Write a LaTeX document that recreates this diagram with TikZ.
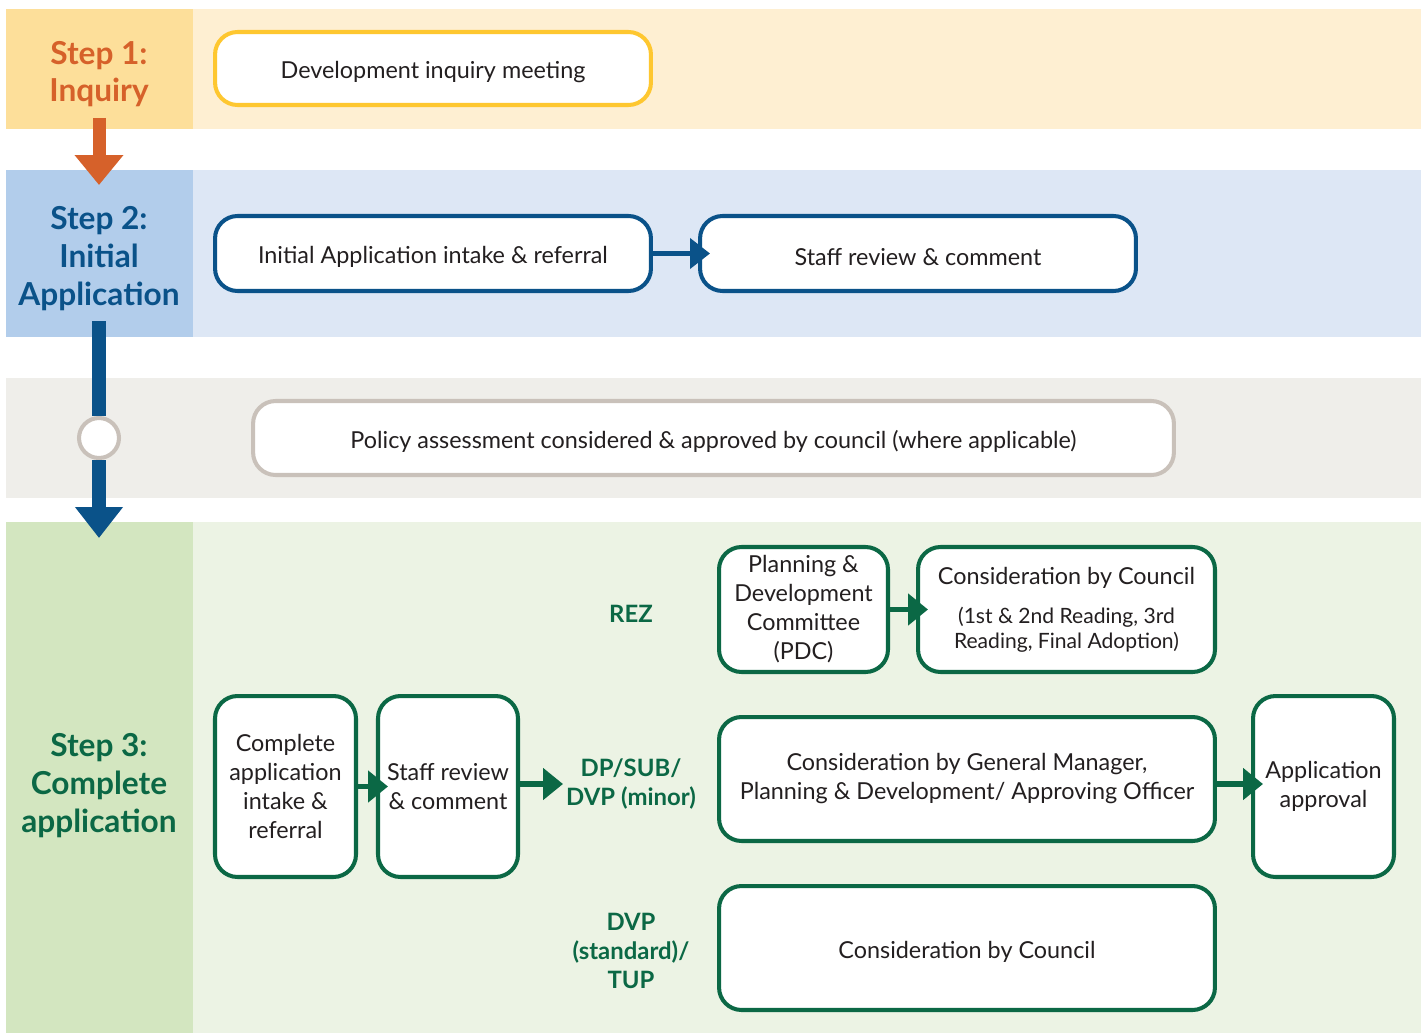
\documentclass[tikz,border=0pt]{standalone}
\usepackage{fontspec}
\setmainfont{Lato}
\usetikzlibrary{arrows.meta, positioning}

\definecolor{InqDark}{HTML}{FDDF9A}
\definecolor{InqLight}{HTML}{FEEFD2}
\definecolor{InqLine}{HTML}{FEC730}
\definecolor{InqText}{HTML}{D6612A}
\definecolor{AppDark}{HTML}{B2CDEB}
\definecolor{AppLight}{HTML}{DDE7F5}
\definecolor{AppLine}{HTML}{0A5289}
\definecolor{PolBand}{HTML}{EFEEEA}
\definecolor{PolLine}{HTML}{C9C1BA}
\definecolor{CplDark}{HTML}{D3E6C0}
\definecolor{CplLight}{HTML}{ECF3E4}
\definecolor{CplLine}{HTML}{0B6845}
\definecolor{Ink}{HTML}{231F20}

\newcommand{\smalltxt}{\fontsize{12}{14}\selectfont}

\begin{document}
\begin{tikzpicture}[x=0.02cm, y=-0.02cm, font=\fontsize{13.3}{16.5}\selectfont,
  box/.style={draw, line width=2.3pt, rounded corners=0.45cm, fill=white,
              text=Ink, align=center, inner sep=1pt,
              execute at begin node={\rule{0pt}{14pt}}},
  ybox/.style={box, draw=InqLine},
  bbox/.style={box, draw=AppLine},
  pbox/.style={box, draw=PolLine},
  gbox/.style={box, draw=CplLine},
  steplabel/.style={font=\fontsize{18}{21.5}\selectfont\bfseries, align=center},
  kind/.style={font=\fontsize{13.6}{16.5}\selectfont\bfseries, text=CplLine, align=center},
  garrow/.style={draw=CplLine, line width=3pt, shorten >=-0.24cm,
                 -{Triangle[length=0.4cm, width=0.62cm]}},
  barrow/.style={draw=AppLine, line width=2.3pt, shorten >=-0.24cm,
                 -{Triangle[length=0.4cm, width=0.6cm]}}]

  \useasboundingbox (0,0) rectangle (1426,1034);

  % Bands
  \fill[InqLight] (6,9) rectangle (1421,129);
  \fill[InqDark] (6,9) rectangle (193,129);
  \fill[AppLight] (6,170) rectangle (1421,337);
  \fill[AppDark] (6,170) rectangle (193,337);
  \fill[PolBand] (6,378) rectangle (1421,498);
  \fill[CplLight] (6,522) rectangle (1421,1033);
  \fill[CplDark] (6,522) rectangle (193,1033);

  % Step labels
  \node[steplabel, text=InqText] (s1) at (99,74) {Step 1:\\Inquiry};
  \node[steplabel, text=AppLine] (s2) at (99,258.5) {Step 2:\\Initial\\Application};
  \node[steplabel, text=CplLine] (s3) at (99,785.5) {Step 3:\\Complete\\application};

  % Step 1 and 2
  \node[ybox, minimum width=8.72cm, minimum height=1.46cm] (inq) at (433,68.5)
    {Development inquiry meeting};
  \node[bbox, minimum width=8.72cm, minimum height=1.5cm] (initapp) at (433,253.5)
    {Initial Application intake \& referral};
  \node[bbox, minimum width=8.72cm, minimum height=1.5cm] (staffa) at (918,253.5)
    {Staff review \& comment};
  \draw[barrow] (initapp) -- (staffa);

  % Policy
  \node[pbox, minimum width=18.42cm, minimum height=1.48cm] (policy) at (713.5,438)
    {Policy assessment considered \& approved by council (where applicable)};

  % Step 3
  \node[gbox, minimum width=2.82cm, minimum height=3.62cm] (cplapp) at (285.5,786.5)
    {Complete\\application\\intake \&\\referral};
  \node[gbox, minimum width=2.8cm, minimum height=3.62cm] (staffb) at (448,786.5)
    {Staff review\\\& comment};
  \coordinate (route) at (563,784);
  \draw[garrow] (cplapp) -- (staffb);
  \draw[garrow, shorten >=0pt] (staffb.east |- route) -- (route);

  \node[kind] (rez) at (631,614) {REZ};
  \node[kind] (dpsub) at (631,784) {DP/SUB/\\DVP (minor)};
  \node[kind] (dvp) at (631,951) {DVP\\(standard)/\\TUP};

  \node[gbox, minimum width=3.38cm, minimum height=2.5cm] (pdc) at (803.5,609.5)
    {Planning \&\\Development\\Committee\\(PDC)};
  \node[gbox, minimum width=5.94cm, minimum height=2.5cm] (councila) at (1066.5,609.5)
    {Consideration by Council\\[5.7pt]\smalltxt (1st \& 2nd Reading, 3rd\\[-2.3pt]
     \smalltxt Reading, Final Adoption)};
  \draw[garrow] (pdc) -- (councila);

  \node[gbox, minimum width=9.92cm, minimum height=2.48cm] (gm) at (967,779)
    {Consideration by General Manager,\\Planning \& Development/ Approving Officer};
  \node[gbox, minimum width=2.82cm, minimum height=3.62cm] (approval) at (1323.5,786.5)
    {Application\\approval};
  \draw[garrow] (gm.east |- 0,784) -- (approval.west |- 0,784);

  \node[gbox, minimum width=9.92cm, minimum height=2.48cm] (councilb) at (967,948)
    {Consideration by Council};

  % Step arrows
  \coordinate (s1out) at (99,118);
  \coordinate (s2in) at (99,185);
  \draw[InqText, line width=7.4pt, -{Triangle[length=0.6cm, width=0.94cm]}] (s1out) -- (s2in);

  \coordinate (s2out) at (99,321);
  \coordinate (s3in) at (99,538);
  \node[circle, draw=PolLine, fill=white, line width=2.3pt, minimum size=0.8cm,
        inner sep=0pt] (junc) at (99,438) {};
  \draw[AppLine, line width=8.5pt] (s2out) -- (junc);
  \draw[AppLine, line width=8.5pt, -{Triangle[length=0.62cm, width=0.92cm]}] (junc) -- (s3in);

\end{tikzpicture}
\end{document}
